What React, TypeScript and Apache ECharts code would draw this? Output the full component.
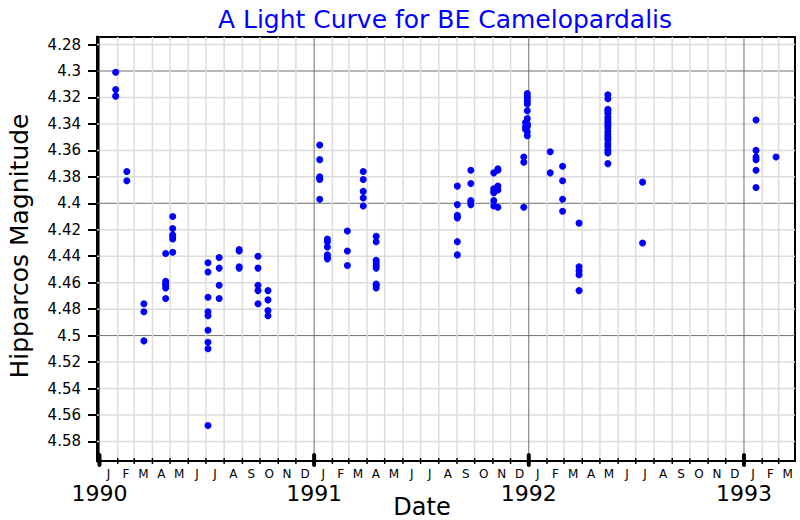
import { useEffect, useRef } from "react";
import * as echarts from "echarts";

const TITLE = "A Light Curve for BE Camelopardalis";
const X_NAME = "Date";
const Y_NAME = "Hipparcos Magnitude";

const MONTH_LETTERS = ["J", "F", "M", "A", "M", "J", "J", "A", "S", "O", "N", "D"];
const YEARS = [1990, 1991, 1992, 1993];
const Y_TICKS = [4.28, 4.3, 4.32, 4.34, 4.36, 4.38, 4.4, 4.42, 4.44, 4.46, 4.48, 4.5, 4.52, 4.54, 4.56, 4.58];
const Y_MAJOR = [4.3, 4.4, 4.5];

const X_START = "1989-12-27T18:00:00Z";
const X_END = "1993-03-28T18:00:00Z";
const Y_TOP = 4.2743;
const Y_BOTTOM = 4.5948;

// observation epochs and the magnitudes measured at each
const EPOCHS = [
  "1990-01-28", "1990-02-16", "1990-03-17", "1990-04-23", "1990-05-05",
  "1990-07-04", "1990-07-23", "1990-08-26", "1990-09-27", "1990-10-14",
  "1991-01-10", "1991-01-23", "1991-02-26", "1991-03-25", "1991-04-16",
  "1991-09-01", "1991-09-24", "1991-11-02", "1991-11-09", "1991-12-23",
  "1991-12-26", "1991-12-29", "1992-02-06", "1992-02-27", "1992-03-26",
  "1992-05-14", "1992-07-12", "1993-01-21", "1993-02-24",
];
const MAGS = [
  [4.301, 4.314, 4.319],
  [4.376, 4.383],
  [4.476, 4.482, 4.504],
  [4.438, 4.459, 4.461, 4.462, 4.464, 4.472],
  [4.41, 4.419, 4.424, 4.425, 4.427, 4.437],
  [4.445, 4.452, 4.471, 4.482, 4.485, 4.496, 4.505, 4.51, 4.568],
  [4.441, 4.449, 4.462, 4.472],
  [4.435, 4.436, 4.448, 4.449],
  [4.44, 4.449, 4.462, 4.466, 4.476],
  [4.466, 4.473, 4.481, 4.485],
  [4.356, 4.367, 4.38, 4.381, 4.382, 4.397],
  [4.427, 4.429, 4.433, 4.439, 4.441, 4.442],
  [4.421, 4.436, 4.447],
  [4.376, 4.382, 4.391, 4.396, 4.402],
  [4.425, 4.429, 4.443, 4.445, 4.447, 4.449, 4.461, 4.462, 4.464],
  [4.387, 4.401, 4.409, 4.41, 4.411, 4.429, 4.439],
  [4.375, 4.385, 4.398, 4.399, 4.401],
  [4.377, 4.389, 4.391, 4.392, 4.398, 4.402],
  [4.374, 4.375, 4.387, 4.39, 4.403],
  [4.365, 4.369, 4.403],
  [4.339, 4.342, 4.344],
  [4.317, 4.319, 4.321, 4.323, 4.325, 4.33, 4.336, 4.34, 4.341, 4.342, 4.346, 4.349],
  [4.361, 4.377],
  [4.372, 4.383, 4.397, 4.406],
  [4.415, 4.448, 4.451, 4.454, 4.466],
  [4.318, 4.321, 4.329, 4.33, 4.332, 4.335, 4.337, 4.339, 4.341, 4.343, 4.346, 4.348, 4.35, 4.352, 4.355, 4.357, 4.36, 4.362, 4.37],
  [4.384, 4.43],
  [4.337, 4.36, 4.365, 4.367, 4.375, 4.388],
  [4.365],
];

const FONT = "DejaVu Sans";

export default function App() {
  const ref = useRef<HTMLDivElement>(null);

  useEffect(() => {
    if (!ref.current) return;
    const chart = echarts.init(ref.current, undefined, { renderer: "svg" });

    const xMin = Date.parse(X_START);
    const xMax = Date.parse(X_END);

    const monthStarts: number[][] = [];
    const monthMids: number[] = [];
    for (let y = YEARS[0] - 1; y <= YEARS[YEARS.length - 1]; y++) {
      for (let m = 0; m < 12; m++) {
        const s = Date.UTC(y, m, 1);
        const e = Date.UTC(y, m + 1, 1);
        if (s >= xMin && s <= xMax) monthStarts.push([s, Y_TOP, m === 0 ? 1 : 0]);
        const mid = (s + e) / 2;
        if (mid >= xMin && mid <= xMax) monthMids.push(mid);
      }
    }
    const yearStarts = YEARS.map((y) => Date.UTC(y, 0, 1));

    const points: number[][] = [];
    EPOCHS.forEach((d, i) => {
      const t = Date.parse(d + "T12:00:00Z");
      MAGS[i].forEach((v) => points.push([t, v]));
    });

    const option: any = {
      animation: false,
      backgroundColor: "#fff",
      textStyle: { fontFamily: FONT },
      grid: {
        left: 97,
        top: 37,
        width: 698,
        height: 424,
        show: true,
        borderColor: "#000",
        borderWidth: 2,
        backgroundColor: "transparent",
      },
      xAxis: [
        {
          type: "value",
          min: xMin,
          max: xMax,
          position: "bottom",
          axisLine: { show: true, onZero: false, lineStyle: { color: "#000", width: 2 } },
          axisTick: { show: false },
          splitLine: { show: false },
          axisLabel: {
            customValues: monthMids,
            formatter: (v: number) => MONTH_LETTERS[new Date(v).getUTCMonth()],
            fontSize: 12,
            color: "#000",
            margin: 7,
            fontFamily: FONT,
          },
        },
        {
          type: "value",
          min: xMin,
          max: xMax,
          position: "bottom",
          axisLine: { show: false },
          axisTick: { show: false },
          splitLine: { show: false },
          axisLabel: {
            customValues: yearStarts,
            formatter: (v: number) => String(new Date(v).getUTCFullYear()),
            fontSize: 22,
            color: "#000",
            margin: 21,
            fontFamily: FONT,
          },
        },
      ],
      yAxis: {
        type: "value",
        inverse: true,
        min: Y_TOP,
        max: Y_BOTTOM,
        axisLine: { show: true, onZero: false, lineStyle: { color: "#000", width: 3 } },
        axisTick: {
          show: true,
          customValues: Y_TICKS,
          length: 9,
          lineStyle: { color: "#000", width: 2 },
        },
        axisLabel: {
          customValues: Y_TICKS,
          formatter: (v: number) => String(v),
          fontSize: 15,
          color: "#000",
          margin: 16,
          fontFamily: FONT,
        },
        splitLine: { show: false },
      },
      series: [
        {
          type: "custom",
          name: "hgrid",
          silent: true,
          clip: false,
          z: 1,
          xAxisIndex: 0,
          encode: { x: 0, y: 1 },
          data: Y_TICKS.map((v) => [xMin, v, Y_MAJOR.indexOf(v) >= 0 ? 1 : 0]),
          renderItem: (params: any, api: any) => {
            const cs = params.coordSys;
            const p = api.coord([api.value(0), api.value(1)]);
            const major = api.value(2) === 1;
            return {
              type: "line",
              shape: { x1: cs.x, y1: p[1], x2: cs.x + cs.width, y2: p[1] },
              style: { stroke: major ? "#6e6e6e" : "#dcdcdc", lineWidth: major ? 1 : 1.5 },
            };
          },
        },
        {
          type: "custom",
          name: "vgrid",
          silent: true,
          clip: false,
          z: 1,
          xAxisIndex: 0,
          encode: { x: 0, y: 1 },
          data: monthStarts,
          renderItem: (params: any, api: any) => {
            const cs = params.coordSys;
            const p = api.coord([api.value(0), api.value(1)]);
            const major = api.value(2) === 1;
            const x = p[0];
            const yb = cs.y + cs.height;
            return {
              type: "group",
              children: [
                {
                  type: "line",
                  shape: { x1: x, y1: cs.y, x2: x, y2: yb },
                  style: { stroke: major ? "#6e6e6e" : "#dcdcdc", lineWidth: major ? 1 : 1.5 },
                },
                major
                  ? {
                      type: "line",
                      shape: { x1: x, y1: yb - 6, x2: x, y2: yb + 4 },
                      style: { stroke: "#000", lineWidth: 4, lineCap: "round" },
                    }
                  : {
                      type: "line",
                      shape: { x1: x, y1: yb - 3, x2: x, y2: yb + 3 },
                      style: { stroke: "#000", lineWidth: 1.5 },
                    },
              ],
            };
          },
        },
        {
          type: "scatter",
          name: "BE Cam",
          z: 3,
          xAxisIndex: 0,
          symbol: "circle",
          symbolSize: 7,
          itemStyle: { color: "#0000ff", opacity: 1 },
          data: points,
        },
      ],
      graphic: [
        {
          type: "text",
          x: 445,
          y: 19,
          style: {
            text: TITLE,
            fill: "#0000ff",
            font: `25px "${FONT}"`,
            textAlign: "center",
            textVerticalAlign: "middle",
          },
        },
        {
          type: "text",
          x: 422,
          y: 507,
          style: {
            text: X_NAME,
            fill: "#000",
            font: `24px "${FONT}"`,
            textAlign: "center",
            textVerticalAlign: "middle",
          },
        },
        {
          type: "text",
          x: 19,
          y: 246,
          rotation: Math.PI / 2,
          style: {
            text: Y_NAME,
            fill: "#000",
            font: `25px "${FONT}"`,
            textAlign: "center",
            textVerticalAlign: "middle",
          },
        },
      ],
    };

    chart.setOption(option);
    return () => chart.dispose();
  }, []);

  return (
    <div
      ref={ref}
      style={{ position: "absolute", left: 0, top: 0, width: 800, height: 520, background: "#fff" }}
    />
  );
}
